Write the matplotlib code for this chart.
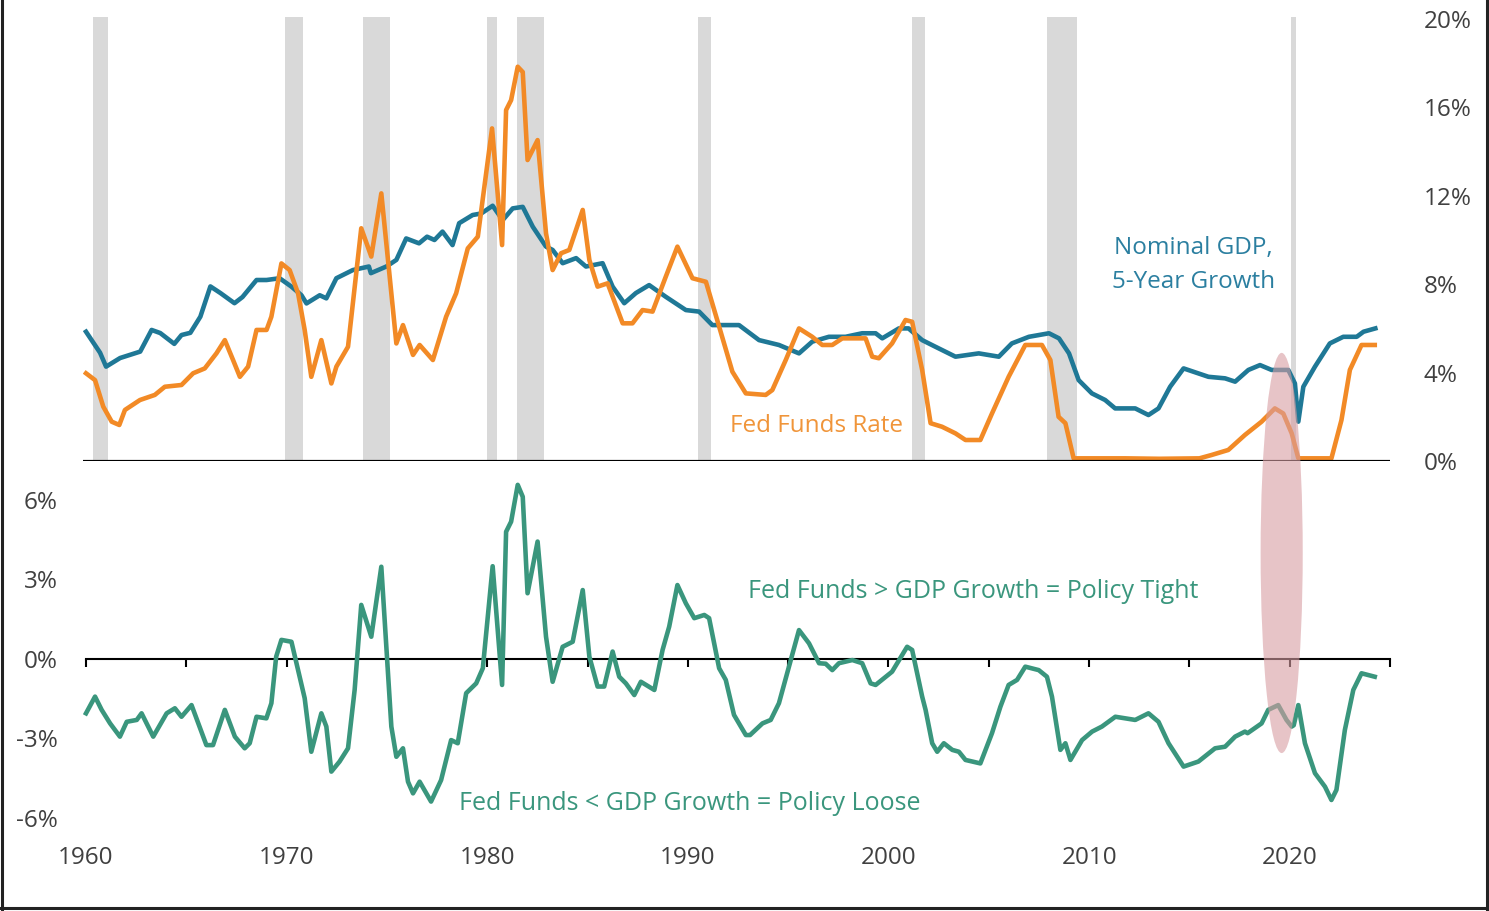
import matplotlib
import matplotlib.pyplot as plt
from matplotlib.lines import Line2D
from matplotlib.patches import Ellipse

matplotlib.use("Agg")

# ---- data ----
recessions = [
    (1960.33, 1961.08), (1969.92, 1970.83), (1973.83, 1975.17),
    (1980.0, 1980.5), (1981.5, 1982.83), (1990.5, 1991.17),
    (2001.17, 2001.83), (2007.92, 2009.42), (2020.08, 2020.33),
]

gdp_years = [
    1960.0, 1960.7, 1961.0, 1961.7, 1962.7, 1963.27, 1963.7, 1964.4, 1964.76, 1965.2,
    1965.7, 1966.2, 1966.7, 1967.4, 1967.8, 1968.5, 1969.0, 1969.65, 1970.24, 1970.74,
    1970.99, 1971.65, 1971.98, 1972.48, 1973.3, 1974.1, 1974.2, 1974.97, 1975.47, 1975.96,
    1976.6, 1977.0, 1977.37, 1977.77, 1978.27, 1978.6, 1979.27, 1979.7, 1980.27, 1980.77,
    1981.27, 1981.77, 1982.27, 1982.93, 1983.26, 1983.76, 1984.43, 1984.92, 1985.75, 1986.25,
    1986.83, 1987.41, 1988.07, 1988.9, 1989.9, 1990.56, 1991.22, 1992.55, 1993.55, 1994.54,
    1995.54, 1996.2, 1997.03, 1997.86, 1998.69, 1999.36, 1999.69, 2000.52, 2001.0, 2001.68,
    2002.34, 2003.34, 2004.5, 2005.5, 2006.15, 2007.0, 2008.0, 2008.5, 2009.0, 2009.48,
    2010.14, 2010.8, 2011.3, 2012.3, 2012.96, 2013.46, 2014.04, 2014.71, 2015.95, 2016.78,
    2017.28, 2017.94, 2018.52, 2019.1, 2019.93, 2020.26, 2020.43, 2020.68, 2021.26, 2022.0,
    2022.67, 2023.34, 2023.68, 2024.27,
]
gdp_vals = [
    5.85, 4.9, 4.27, 4.66, 4.95, 5.93, 5.79, 5.3, 5.7, 5.8,
    6.53, 7.9, 7.6, 7.14, 7.42, 8.19, 8.19, 8.27, 7.89, 7.5,
    7.13, 7.5, 7.36, 8.27, 8.64, 8.8, 8.5, 8.8, 9.1, 10.07,
    9.85, 10.15, 10.0, 10.38, 9.77, 10.76, 11.13, 11.2, 11.55, 10.9,
    11.43, 11.5, 10.6, 9.7, 9.55, 8.95, 9.18, 8.8, 8.95, 7.89,
    7.14, 7.6, 7.96, 7.43, 6.83, 6.76, 6.15, 6.15, 5.47, 5.25,
    4.87, 5.4, 5.62, 5.62, 5.78, 5.78, 5.55, 6.0, 6.0, 5.47,
    5.17, 4.72, 4.87, 4.72, 5.32, 5.62, 5.78, 5.55, 4.87, 3.66,
    3.06, 2.76, 2.38, 2.38, 2.08, 2.38, 3.36, 4.19, 3.81, 3.74,
    3.59, 4.12, 4.34, 4.12, 4.12, 3.51, 1.78, 3.36, 4.27, 5.32,
    5.62, 5.62, 5.85, 6.0,
]

ff_years = [
    1960.0, 1960.45, 1960.86, 1961.28, 1961.66, 1961.94, 1962.69, 1963.43, 1963.93, 1964.76,
    1965.34, 1965.92, 1966.5, 1966.92, 1967.33, 1967.67, 1968.08, 1968.5, 1969.0, 1969.24,
    1969.74, 1970.15, 1970.57, 1970.9, 1971.23, 1971.73, 1972.23, 1972.48, 1973.06, 1973.72,
    1974.22, 1974.72, 1975.47, 1975.8, 1976.3, 1976.63, 1977.29, 1977.95, 1978.45, 1979.03,
    1979.53, 1980.24, 1980.74, 1980.94, 1981.19, 1981.52, 1981.77, 1982.01, 1982.51, 1982.93,
    1983.26, 1983.68, 1984.09, 1984.76, 1985.09, 1985.5, 1986.0, 1986.75, 1987.24, 1987.74,
    1988.24, 1988.9, 1989.48, 1990.23, 1990.9, 1991.56, 1992.22, 1992.89, 1993.88, 1994.21,
    1994.88, 1995.54, 1996.2, 1996.7, 1997.2, 1997.7, 1998.86, 1999.19, 1999.52, 2000.18,
    2000.85, 2001.18, 2001.68, 2002.1, 2002.67, 2003.34, 2003.84, 2004.58, 2005.16, 2005.99,
    2006.82, 2007.65, 2008.07, 2008.48, 2008.82, 2009.23, 2010.0, 2011.8, 2013.5, 2015.5,
    2016.1, 2016.94, 2017.77, 2018.6, 2019.26, 2019.68, 2020.1, 2020.43, 2022.08, 2022.58,
    2023.0, 2023.58, 2024.24,
]
ff_vals = [
    3.97, 3.66, 2.46, 1.78, 1.63, 2.31, 2.76, 2.99, 3.36, 3.44,
    3.97, 4.19, 4.87, 5.47, 4.57, 3.81, 4.27, 5.93, 5.93, 6.53,
    8.94, 8.64, 7.59, 5.93, 3.81, 5.47, 3.51, 4.27, 5.17, 10.53,
    9.25, 12.11, 5.32, 6.15, 4.8, 5.25, 4.57, 6.53, 7.59, 9.62,
    10.15, 15.05, 9.77, 15.88, 16.33, 17.84, 17.6, 13.62, 14.52, 10.3,
    8.64, 9.4, 9.55, 11.36, 9.1, 7.89, 8.04, 6.23, 6.23, 6.83,
    6.76, 8.34, 9.7, 8.27, 8.11, 6.08, 4.04, 3.06, 2.99, 3.21,
    4.57, 6.0, 5.62, 5.25, 5.25, 5.55, 5.55, 4.72, 4.65, 5.32,
    6.38, 6.3, 4.12, 1.71, 1.55, 1.25, 0.95, 0.95, 2.15, 3.81,
    5.25, 5.25, 4.57, 2.0, 1.71, 0.12, 0.12, 0.12, 0.1, 0.12,
    0.27, 0.5, 1.18, 1.78, 2.38, 2.15, 1.25, 0.12, 0.12, 1.85,
    4.12, 5.25, 5.25,
]

gap_years = [
    1960.0, 1960.45, 1960.78, 1961.2, 1961.69, 1962.03, 1962.53, 1962.77, 1963.35, 1964.02,
    1964.43, 1964.76, 1965.26, 1966.0, 1966.33, 1966.92, 1967.42, 1967.91, 1968.16, 1968.5,
    1968.99, 1969.24, 1969.48, 1969.74, 1970.24, 1970.57, 1970.9, 1971.23, 1971.73, 1971.98,
    1972.23, 1972.64, 1973.06, 1973.39, 1973.72, 1974.22, 1974.72, 1975.22, 1975.47, 1975.8,
    1976.05, 1976.3, 1976.63, 1977.2, 1977.7, 1978.2, 1978.53, 1978.95, 1979.45, 1979.78,
    1980.27, 1980.74, 1980.94, 1981.19, 1981.52, 1981.77, 1982.01, 1982.51, 1982.93, 1983.26,
    1983.76, 1984.26, 1984.76, 1985.09, 1985.5, 1985.83, 1986.25, 1986.58, 1986.91, 1987.33,
    1987.66, 1988.33, 1988.74, 1989.07, 1989.48, 1989.9, 1990.32, 1990.82, 1991.06, 1991.56,
    1991.89, 1992.3, 1992.64, 1992.89, 1993.1, 1993.72, 1994.13, 1994.54, 1995.54, 1996.04,
    1996.54, 1996.87, 1997.2, 1997.53, 1998.2, 1998.69, 1999.11, 1999.36, 2000.18, 2000.93,
    2001.18, 2001.68, 2001.85, 2002.18, 2002.43, 2002.76, 2003.18, 2003.51, 2003.84, 2004.58,
    2005.16, 2005.58, 2005.99, 2006.41, 2006.82, 2007.49, 2007.9, 2008.15, 2008.57, 2008.82,
    2009.07, 2009.65, 2010.15, 2010.64, 2011.31, 2012.3, 2012.96, 2013.46, 2013.96, 2014.71,
    2015.45, 2016.28, 2016.78, 2017.28, 2017.77, 2017.9, 2018.6, 2018.93, 2019.43, 2019.84,
    2020.1, 2020.2, 2020.43, 2020.76, 2021.26, 2021.76, 2022.08, 2022.33, 2022.75, 2023.17,
    2023.58, 2024.24,
]
gap_vals = [
    -2.05, -1.42, -1.92, -2.43, -2.93, -2.37, -2.3, -2.05, -2.93, -2.05,
    -1.86, -2.18, -1.74, -3.25, -3.25, -1.92, -2.93, -3.37, -3.18, -2.18,
    -2.24, -1.67, 0.09, 0.72, 0.65, -0.42, -1.48, -3.5, -2.05, -2.55,
    -4.25, -3.87, -3.37, -1.17, 2.04, 0.84, 3.48, -2.55, -3.69, -3.37,
    -4.63, -5.07, -4.63, -5.38, -4.57, -3.06, -3.18, -1.29, -0.92, -0.35,
    3.5, -0.98, 4.8, 5.18, 6.57, 6.12, 2.48, 4.43, 0.84, -0.86,
    0.46, 0.65, 2.6, 0.09, -1.04, -1.04, 0.28, -0.67, -0.92, -1.36,
    -0.86, -1.17, 0.34, 1.22, 2.79, 2.1, 1.54, 1.66, 1.54, -0.35,
    -0.79, -2.11, -2.55, -2.87, -2.87, -2.43, -2.3, -1.67, 1.09, 0.59,
    -0.16, -0.18, -0.42, -0.16, -0.04, -0.16, -0.92, -0.98, -0.48, 0.46,
    0.34, -1.42, -1.92, -3.18, -3.5, -3.18, -3.43, -3.5, -3.81, -3.94,
    -2.8, -1.8, -0.98, -0.79, -0.29, -0.42, -0.67, -1.42, -3.43, -3.18,
    -3.81, -3.06, -2.74, -2.55, -2.18, -2.3, -2.05, -2.37, -3.18, -4.06,
    -3.87, -3.37, -3.31, -2.93, -2.74, -2.8, -2.43, -1.92, -1.74, -2.3,
    -2.55, -2.5, -1.74, -3.18, -4.31, -4.82, -5.32, -4.94, -2.68, -1.17,
    -0.54, -0.67,
]

top_ticks = [0, 4, 8, 12, 16, 20]
gap_ticks = [-6, -3, 0, 3, 6]
year_labels = [1960, 1970, 1980, 1990, 2000, 2010, 2020]
year_minor = list(range(1960, 2030, 5))

BLUE = "#1f7896"
ORANGE = "#f28a26"
GREEN = "#3a967d"
GRAY = "#d9d9d9"
TXT = "#404040"

plt.rcParams["font.family"] = ["Open Sans", "DejaVu Sans"]

W, H = 1489, 911
fig = plt.figure(figsize=(W / 100, H / 100), dpi=100)
fig.patch.set_facecolor("white")


def box(left, top, right, bottom):
    return [left / W, 1 - bottom / H, (right - left) / W, (bottom - top) / H]


XLIM = (1959.85, 2025.0)
LW = 3.3

# ---- top panel: GDP growth vs fed funds ----
ax = fig.add_axes(box(83, 16.8, 1390, 461))
ax.set_xlim(*XLIM)
ax.set_ylim(0, 20.1)
ax.patch.set_alpha(0)
for s in ax.spines.values():
    s.set_visible(False)
for a, b in recessions:
    ax.axvspan(a, b, color=GRAY, lw=0, zorder=0)
ax.plot(gdp_years, gdp_vals, color=BLUE, lw=LW, zorder=3, solid_joinstyle="round")
ax.plot(ff_years, ff_vals, color=ORANGE, lw=LW, zorder=3, solid_joinstyle="round")
ax.axhline(0, color="black", lw=2.3, zorder=4)
ax.set_xticks([])
ax.yaxis.tick_right()
ax.set_yticks(top_ticks)
ax.set_yticklabels([f"{t}%" for t in top_ticks])
ax.tick_params(axis="y", length=0, pad=24, labelsize=17.5, labelcolor=TXT)

ax.text(2015.2, 8.87, "Nominal GDP,\n5-Year Growth", color="#2b7fa0", fontsize=17.5,
        ha="center", va="center", linespacing=1.55)
ax.text(1996.4, 1.58, "Fed Funds Rate", color="#f0953a", fontsize=17.5,
        ha="center", va="center")

# ---- bottom panel: fed funds minus GDP growth ----
axb = fig.add_axes(box(83, 470, 1390, 840))
axb.set_xlim(*XLIM)
axb.set_ylim(-6.83, 7.13)
axb.patch.set_alpha(0)
for k in ("top", "right", "left"):
    axb.spines[k].set_visible(False)
axb.spines["bottom"].set_position(("data", 0))
axb.spines["bottom"].set_bounds(1960, 2025)
axb.spines["bottom"].set_linewidth(1.5)
axb.set_xticks(year_minor)
axb.tick_params(axis="x", direction="out", length=6, width=1.5, labelbottom=False)
axb.plot(gap_years, gap_vals, color=GREEN, lw=LW, zorder=3, solid_joinstyle="round")
axb.set_yticks(gap_ticks)
axb.set_yticklabels([f"{t}%" for t in gap_ticks])
axb.tick_params(axis="y", length=0, pad=18, labelsize=17.5, labelcolor=TXT)

sec = axb.secondary_xaxis(0)
sec.set_xticks(year_labels)
sec.set_xticklabels([str(y) for y in year_labels])
sec.tick_params(length=0, pad=4, labelsize=17.5, labelcolor=TXT)
sec.spines["bottom"].set_visible(False)

axb.text(2004.2, 2.53, "Fed Funds > GDP Growth = Policy Tight", color=GREEN,
         fontsize=18, ha="center", va="center")
axb.text(1990.1, -5.47, "Fed Funds < GDP Growth = Policy Loose", color=GREEN,
         fontsize=18, ha="center", va="center")

# highlight of the 2019 episode, spanning both panels
axb.add_patch(Ellipse((2019.6, 4.0), 2.1, 15.1, facecolor="#d89ea3", alpha=0.6,
                      edgecolor="none", clip_on=False, zorder=5))

# frame round the picture
for xs, ys in (([1.5 / W, 1.5 / W], [0, 1]),
               ([1 - 2.5 / W, 1 - 2.5 / W], [0, 1]),
               ([0, 1], [3.5 / H, 3.5 / H])):
    fig.add_artist(Line2D(xs, ys, color="#222222", lw=2.2))

fig.savefig("out.png", dpi=100)
